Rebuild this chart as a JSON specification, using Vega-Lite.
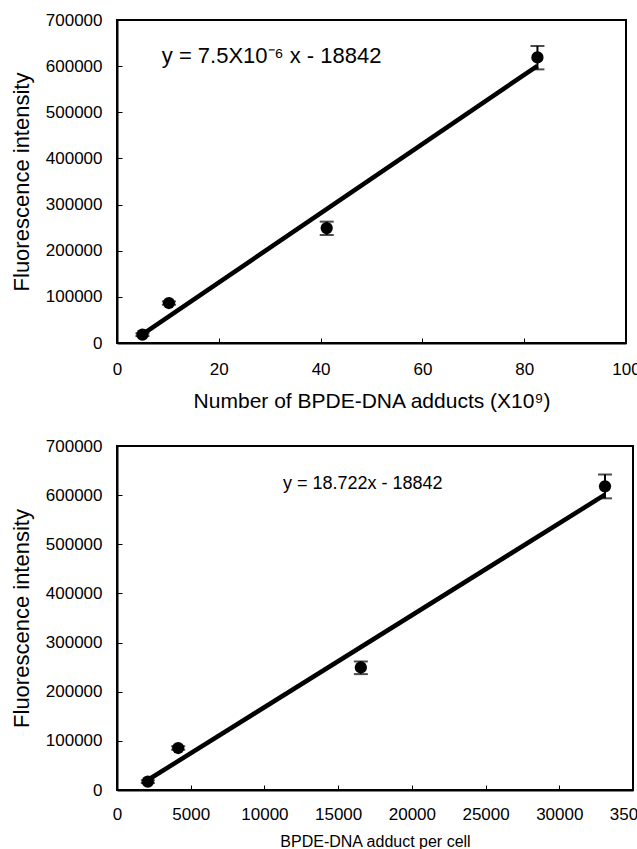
{
  "$schema": "https://vega.github.io/schema/vega-lite/v6.json",
  "background": "white",
  "padding": {"left": 9, "top": 10, "right": 0, "bottom": 0},
  "spacing": 24,
  "config": {
    "font": "Liberation Sans",
    "view": {"stroke": "black", "strokeWidth": 2},
    "axis": {
      "grid": false,
      "domainColor": "black",
      "domainWidth": 2,
      "tickColor": "black",
      "tickWidth": 1,
      "tickSize": -5,
      "labelColor": "black",
      "labelFont": "Liberation Sans",
      "labelFontSize": 17,
      "titleColor": "black",
      "titleFont": "Liberation Sans",
      "titleFontWeight": "normal",
      "labelOverlap": false
    }
  },
  "datasets": {
    "topPts": [
      {"x": 5.0, "y": 18000, "lo": 15000, "hi": 21000},
      {"x": 10.2, "y": 86600, "lo": 83000, "hi": 90000},
      {"x": 41.2, "y": 249000, "lo": 234000, "hi": 263000},
      {"x": 82.6, "y": 619000, "lo": 593000, "hi": 643600}
    ],
    "topLine": [
      {"x": 5.0, "y": 18700},
      {"x": 82.6, "y": 600700}
    ],
    "botPts": [
      {"x": 2090, "y": 16900, "lo": 14000, "hi": 20000},
      {"x": 4150, "y": 85400, "lo": 82000, "hi": 89000},
      {"x": 16540, "y": 249300, "lo": 235800, "hi": 261500},
      {"x": 33100, "y": 618000, "lo": 593500, "hi": 642000}
    ],
    "botLine": [
      {"x": 2090, "y": 20300},
      {"x": 33100, "y": 600900}
    ]
  },
  "vconcat": [
    {
      "width": 509,
      "height": 323,
      "encoding": {
        "x": {
          "field": "x", "type": "quantitative",
          "scale": {"domain": [0, 100], "nice": false, "zero": false},
          "axis": {
            "values": [0, 20, 40, 60, 80, 100],
            "labelFlush": false,
            "labelPadding": 23,
            "title": "Number of BPDE-DNA adducts (X10⁹)",
            "titleFontSize": 21,
            "titlePadding": 13
          }
        },
        "y": {
          "field": "y", "type": "quantitative",
          "scale": {"domain": [0, 700000], "nice": false},
          "axis": {
            "values": [0, 100000, 200000, 300000, 400000, 500000, 600000, 700000],
            "format": "d",
            "labelPadding": 20,
            "title": "Fluorescence intensity",
            "titleFontSize": 22,
            "titlePadding": 12
          }
        }
      },
      "layer": [
        {
          "data": {"name": "topLine"},
          "mark": {"type": "line", "color": "black", "strokeWidth": 4.5}
        },
        {
          "data": {"name": "topPts"},
          "mark": {"type": "errorbar", "ticks": {"size": 14, "thickness": 2}, "rule": {"strokeWidth": 2}},
          "encoding": {
            "y": {"field": "lo", "type": "quantitative"},
            "y2": {"field": "hi"},
            "color": {"value": "black"}
          }
        },
        {
          "data": {"name": "topPts"},
          "mark": {"type": "point", "filled": true, "shape": "circle", "size": 150, "color": "black", "opacity": 1}
        },
        {
          "data": {"values": [{"x": 8.8, "y": 621000, "label": "y = 7.5X10⁻⁶ x - 18842"}]},
          "mark": {"type": "text", "align": "left", "baseline": "middle", "fontSize": 22, "font": "Liberation Sans", "color": "black"},
          "encoding": {"text": {"field": "label"}}
        }
      ]
    },
    {
      "width": 516,
      "height": 344,
      "encoding": {
        "x": {
          "field": "x", "type": "quantitative",
          "scale": {"domain": [0, 35000], "nice": false, "zero": false},
          "axis": {
            "values": [0, 5000, 10000, 15000, 20000, 25000, 30000, 35000],
            "format": "d",
            "labelFlush": false,
            "labelPadding": 21,
            "title": "BPDE-DNA adduct per cell",
            "titleFontSize": 16,
            "titlePadding": 11
          }
        },
        "y": {
          "field": "y", "type": "quantitative",
          "scale": {"domain": [0, 700000], "nice": false},
          "axis": {
            "values": [0, 100000, 200000, 300000, 400000, 500000, 600000, 700000],
            "format": "d",
            "labelPadding": 20,
            "title": "Fluorescence intensity",
            "titleFontSize": 22,
            "titlePadding": 12
          }
        }
      },
      "layer": [
        {
          "data": {"name": "botLine"},
          "mark": {"type": "line", "color": "black", "strokeWidth": 4.5}
        },
        {
          "data": {"name": "botPts"},
          "mark": {"type": "errorbar", "ticks": {"size": 14, "thickness": 2}, "rule": {"strokeWidth": 2}},
          "encoding": {
            "y": {"field": "lo", "type": "quantitative"},
            "y2": {"field": "hi"},
            "color": {"value": "black"}
          }
        },
        {
          "data": {"name": "botPts"},
          "mark": {"type": "point", "filled": true, "shape": "circle", "size": 150, "color": "black", "opacity": 1}
        },
        {
          "data": {"values": [{"x": 11260, "y": 622700, "label": "y = 18.722x - 18842"}]},
          "mark": {"type": "text", "align": "left", "baseline": "middle", "fontSize": 18, "font": "Liberation Sans", "color": "black"},
          "encoding": {"text": {"field": "label"}}
        }
      ]
    }
  ]
}
